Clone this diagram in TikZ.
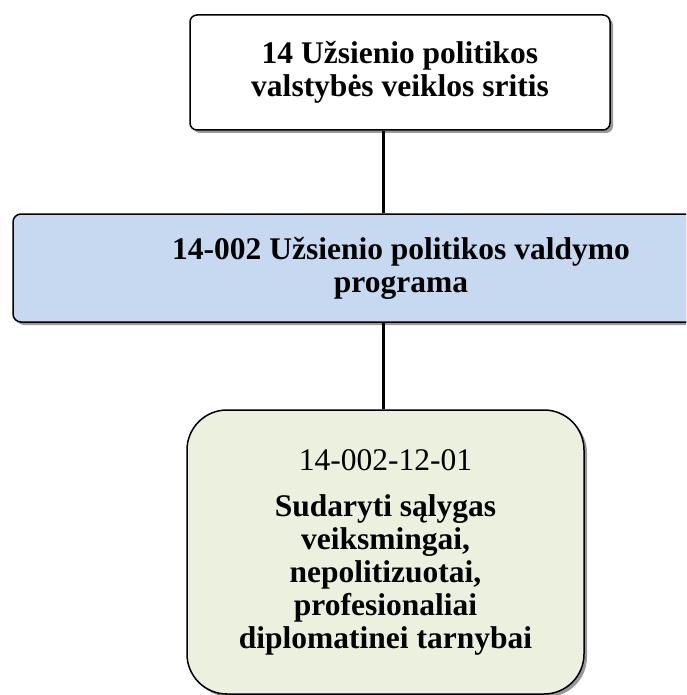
\documentclass[tikz,border=0pt]{standalone}
\usepackage{fontspec}
\setmainfont{Liberation Serif}
\usetikzlibrary{positioning, shadows}
\definecolor{progblue}{HTML}{C6D9F1}
\definecolor{goalgreen}{HTML}{EBF1DE}

\begin{document}
\begin{tikzpicture}[x=1pt, y=-1pt,
			box/.style = {rectangle, draw, line width=1.5pt, align=center,
				font=\fontsize{31.5}{33}\selectfont,
				drop shadow={shadow xshift=3pt, shadow yshift=-3pt, opacity=1, fill=black!40}},
			area/.style = {box, fill=white, rounded corners=7pt, minimum width=420pt, minimum height=115pt},
			programme/.style = {box, fill=progblue, rounded corners=8pt, minimum width=776pt, minimum height=108pt},
			goal/.style = {box, fill=goalgreen, rounded corners=40pt, minimum width=397pt, minimum height=284pt},
			link/.style = {line width=3pt},
		]
		\clip (0,0) rectangle (686,695);

		\node[area](A) at (400,72.5){\textbf{14 Užsienio politikos}\\\textbf{valstybės veiklos sritis}};
		\node[programme](P) at (401,268){\textbf{14-002 Užsienio politikos valdymo}\\\textbf{programa}};
		\node[goal](G) at (385.5,552){14-002-12-01\\[13pt]\textbf{Sudaryti sąlygas}\\\textbf{veiksmingai,}\\\textbf{nepolitizuotai,}\\\textbf{profesionaliai}\\\textbf{diplomatinei tarnybai}};

		\coordinate(trunk) at (383,0);
		\draw[link](A.south -| trunk)--(P.north -| trunk);
		\draw[link](P.south -| trunk)--(G.north -| trunk);
	\end{tikzpicture}
\end{document}
